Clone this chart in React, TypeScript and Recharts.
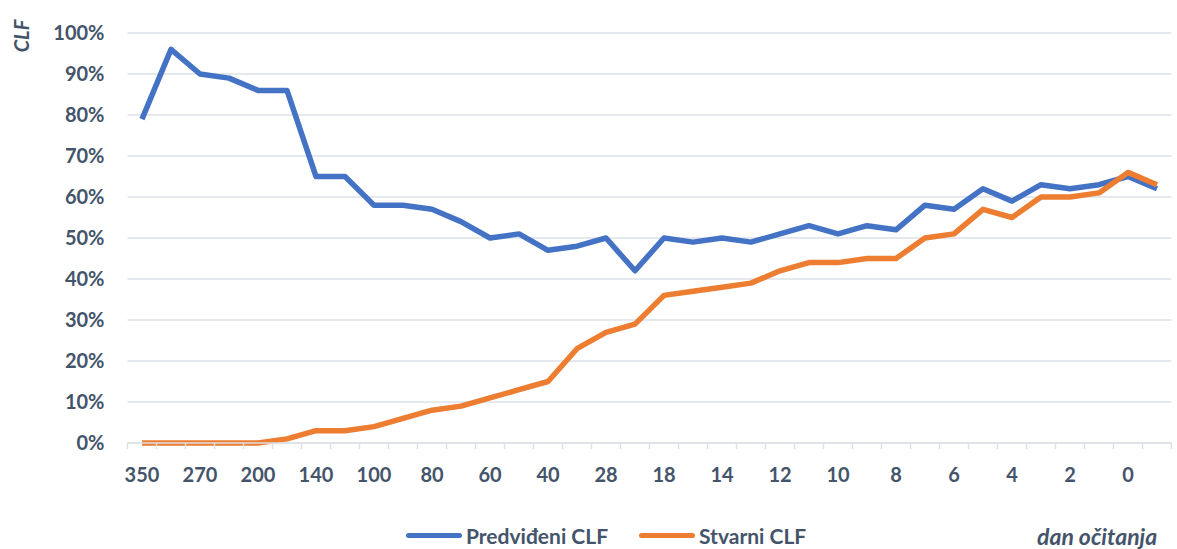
import { LineChart, Line, XAxis, YAxis, CartesianGrid, Legend } from "recharts";

// days before reading (only every second label is printed)
const days = [
  "350", "300", "270", "240", "200", "170", "140", "120", "100", "90",
  "80", "70", "60", "50", "40", "35", "28", "21", "18", "16",
  "14", "13", "12", "11", "10", "9", "8", "7", "6", "5",
  "4", "3", "2", "1", "0", "-1",
];
const predicted = [
  79, 96, 90, 89, 86, 86, 65, 65, 58, 58,
  57, 54, 50, 51, 47, 48, 50, 42, 50, 49,
  50, 49, 51, 53, 51, 53, 52, 58, 57, 62,
  59, 63, 62, 63, 65, 62,
];
const actual = [
  0, 0, 0, 0, 0, 1, 3, 3, 4, 6,
  8, 9, 11, 13, 15, 23, 27, 29, 36, 37,
  38, 39, 42, 44, 44, 45, 45, 50, 51, 57,
  55, 60, 60, 61, 66, 63,
];
const yTicks = [0, 10, 20, 30, 40, 50, 60, 70, 80, 90, 100];

const rows = days.map((d, i) => ({ day: d, predicted: predicted[i], actual: actual[i] }));

const W = 1177;
const H = 549;
const LEFT = 127.5;
const RIGHT = 5.5;
const BAND = (W - LEFT - RIGHT) / days.length;
const FONT = "Lato, 'Open Sans', sans-serif";
const TEXT = "#44546a";
const GRID = "#dde1e6";
const BLUE = "#4472c4";
const ORANGE = "#ed7d31";

function DayTick(props: any) {
  const { x, y, payload, index } = props;
  const last = index === days.length - 1;
  return (
    <g>
      <line x1={x - BAND / 2} x2={x - BAND / 2} y1={y} y2={y + 6} stroke={GRID} strokeWidth={1.5} />
      {last && <line x1={x + BAND / 2} x2={x + BAND / 2} y1={y} y2={y + 6} stroke={GRID} strokeWidth={1.5} />}
      {index % 2 === 0 && (
        <text x={x} y={y + 39} textAnchor="middle" fill={TEXT} fontSize={20} fontWeight={700} fontFamily={FONT}>
          {payload.value}
        </text>
      )}
    </g>
  );
}

function LegendBox() {
  const item = (color: string, label: string, ml: number) => (
    <div style={{ display: "flex", alignItems: "center", marginLeft: ml }}>
      <div style={{ width: 56, height: 5, borderRadius: 3, background: color, marginRight: 4 }} />
      <span>{label}</span>
    </div>
  );
  return (
    <div style={{ display: "flex", alignItems: "center", fontFamily: FONT, fontWeight: 700, fontSize: 21, color: TEXT }}>
      {item(BLUE, "Predviđeni CLF", 406)}
      {item(ORANGE, "Stvarni CLF", 31)}
    </div>
  );
}

export default function App() {
  return (
    <div style={{ position: "absolute", left: 0, top: 0, width: W, height: H, background: "#fff", overflow: "hidden" }}>
      <LineChart width={W} height={H} data={rows} margin={{ top: 33, right: RIGHT, bottom: 56, left: 0 }}>
        <CartesianGrid horizontal vertical={false} stroke={GRID} strokeWidth={1.5} />
        <XAxis
          dataKey="day"
          interval={0}
          height={50}
          padding={{ left: BAND / 2, right: BAND / 2 }}
          tickLine={false}
          tickSize={0}
          tickMargin={0}
          axisLine={{ stroke: GRID, strokeWidth: 1.5 }}
          tick={<DayTick />}
        />
        <YAxis
          width={LEFT}
          domain={[0, 100]}
          ticks={yTicks}
          tickFormatter={(v: number) => v + "%"}
          axisLine={false}
          tickLine={false}
          tickSize={0}
          tickMargin={23}
          tick={{ fill: TEXT, fontSize: 20, fontWeight: 700, fontFamily: FONT }}
        />
        <Legend
          layout="horizontal"
          verticalAlign="middle"
          align="center"
          content={() => <LegendBox />}
          wrapperStyle={{ left: 0, top: 523, width: W }}
        />
        <Line
          dataKey="predicted"
          name="Predviđeni CLF"
          stroke={BLUE}
          strokeWidth={5.5}
          dot={false}
          strokeLinejoin="round"
          isAnimationActive={false}
        />
        <Line
          dataKey="actual"
          name="Stvarni CLF"
          stroke={ORANGE}
          strokeWidth={5.5}
          dot={false}
          strokeLinejoin="round"
          isAnimationActive={false}
        />
      </LineChart>
      <div
        style={{
          position: "absolute",
          left: 21,
          top: 36,
          transform: "translate(-50%, -50%) rotate(-90deg)",
          fontFamily: FONT,
          fontStyle: "italic",
          fontWeight: 700,
          fontSize: 20,
          color: TEXT,
          whiteSpace: "nowrap",
        }}
      >
        CLF
      </div>
      <div
        style={{
          position: "absolute",
          left: 1037,
          top: 522,
          fontFamily: FONT,
          fontStyle: "italic",
          fontWeight: 700,
          fontSize: 23,
          color: TEXT,
          whiteSpace: "nowrap",
        }}
      >
        dan očitanja
      </div>
    </div>
  );
}
